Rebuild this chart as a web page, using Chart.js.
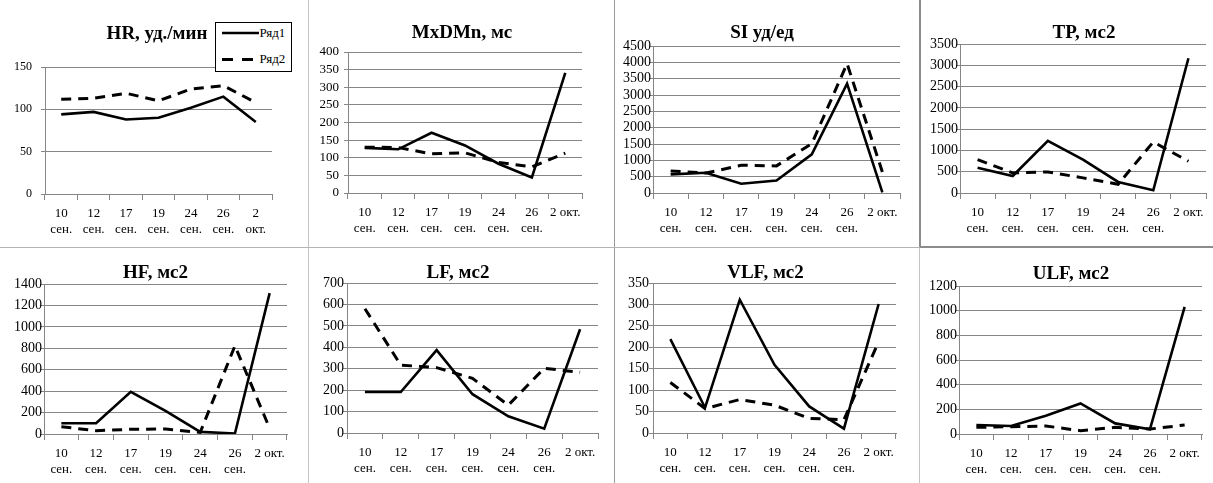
<!DOCTYPE html>
<html><head><meta charset="utf-8">
<script src="https://cdn.jsdelivr.net/npm/chart.js@4.4.1/dist/chart.umd.min.js"></script>
<style>
html,body{margin:0;padding:0;background:#fff;}
#wrap{position:relative;width:1213px;height:483px;overflow:hidden;background:#fff;}
canvas{position:absolute;}
.sep{position:absolute;z-index:3;}
.ttl{position:absolute;width:240px;text-align:center;font-family:"Liberation Serif","Times New Roman",serif;font-weight:bold;font-size:19px;line-height:22.8px;color:#000;white-space:nowrap;z-index:2;}
#legend{position:absolute;left:215px;top:22px;width:77px;height:50px;box-sizing:border-box;border:1px solid #000;background:#fff;z-index:4;}
#legend svg{position:absolute;left:0;top:0;}
#legend .lt{position:absolute;font-family:"Liberation Serif",serif;font-size:13px;line-height:14px;color:#000;}
</style></head><body>
<div id="wrap">
  <div class="sep" style="left:308px;top:0;width:1px;height:483px;background:#c4c4c4"></div>
  <div class="sep" style="left:614px;top:0;width:1px;height:483px;background:#9a9a9a"></div>
  <div class="sep" style="left:919px;top:0;width:2px;height:247px;background:#8c8c8c"></div>
  <div class="sep" style="left:919px;top:247px;width:1px;height:236px;background:#c4c4c4"></div>
  <div class="sep" style="left:0;top:247px;width:920px;height:1px;background:#b4b4b4"></div>
  <div class="sep" style="left:920px;top:246px;width:293px;height:2px;background:#8c8c8c"></div>
  <div id="legend"></div>
</div>
<script>
// ---- data ----
const categories = [["10","сен."],["12","сен."],["17","сен."],["19","сен."],["24","сен."],["26","сен."],["2","окт."]];
const categoriesShort = [["10","сен."],["12","сен."],["17","сен."],["19","сен."],["24","сен."],["26","сен."],"2 окт."];
const seriesNames = ["Ряд1","Ряд2"];
const titles = ["HR, уд./мин","MxDMn, мс","SI уд/ед","TP, мс2","HF, мс2","LF, мс2","VLF, мс2","ULF, мс2"];
const yMax = [150, 400, 4500, 3500, 1400, 700, 350, 1200];
const yStep = [50, 50, 500, 500, 200, 100, 50, 200];

const hr1 = [94, 97, 88, 90, 102, 115, 85];
const hr2 = [112, 113, 119, 110, 124, 128, 108];
const mxdmn1 = [128, 124, 171, 135, 83, 44, 341];
const mxdmn2 = [130, 129, 111, 114, 87, 74, 113];
const si1 = [570, 620, 285, 380, 1185, 3350, 20];
const si2 = [675, 610, 850, 830, 1510, 3960, 645];
const tp1 = [595, 400, 1225, 785, 260, 65, 3165];
const tp2 = [785, 470, 495, 355, 205, 1200, 745];
const hf1 = [100, 100, 393, 215, 20, 5, 1315];
const hf2 = [68, 31, 44, 47, 15, 823, 53];
const lf1 = [191, 191, 387, 181, 78, 20, 484];
const lf2 = [580, 317, 305, 255, 130, 302, 283];
const vlf1 = [219, 59, 311, 159, 62, 10, 301];
const vlf2 = [118, 57, 78, 65, 34, 31, 213];
const ulf1 = [73, 65, 148, 248, 86, 38, 1030];
const ulf2 = [54, 59, 65, 27, 54, 40, 73];

const series1 = [hr1, mxdmn1, si1, tp1, hf1, lf1, vlf1, ulf1];
const series2 = [hr2, mxdmn2, si2, tp2, hf2, lf2, vlf2, ulf2];

// ---- layout (panel boxes, plot areas, title centres) ----
const layouts = [
  {cx:0,   cy:0,   cw:308, ch:247, L:45,  T:67,  R:272,  B:194, tx:157,  ty:33,  yFont:12, yGap:13},
  {cx:309, cy:0,   cw:305, ch:247, L:348, T:52,  R:582,  B:193, tx:462,  ty:32,  yFont:13, yGap:9},
  {cx:615, cy:0,   cw:304, ch:247, L:653, T:46,  R:900,  B:193, tx:762,  ty:32,  yFont:14, yGap:2},
  {cx:921, cy:0,   cw:292, ch:247, L:960, T:44,  R:1206, B:193, tx:1084, ty:32,  yFont:14, yGap:2},
  {cx:0,   cy:248, cw:308, ch:235, L:44,  T:284, R:287,  B:434, tx:155.5,ty:272, yFont:14, yGap:2},
  {cx:309, cy:248, cw:305, ch:235, L:347, T:283, R:598,  B:433, tx:458,  ty:272, yFont:14, yGap:3},
  {cx:615, cy:248, cw:304, ch:235, L:653, T:283, R:896,  B:433, tx:765.5,ty:272, yFont:14, yGap:4},
  {cx:921, cy:248, cw:292, ch:235, L:959, T:286, R:1202, B:434, tx:1071, ty:273, yFont:14, yGap:2}
];

const FONT = "'Liberation Serif','Times New Roman',serif";
const AXIS = '#868686';

const wrap = document.getElementById('wrap');
layouts.forEach((lay, i) => {
  const cv = document.createElement('canvas');
  cv.width = lay.cw; cv.height = lay.ch;
  cv.style.left = lay.cx + 'px'; cv.style.top = lay.cy + 'px';
  cv.style.width = lay.cw + 'px'; cv.style.height = lay.ch + 'px';
  wrap.appendChild(cv);

  const ttl = document.createElement('div');
  ttl.className = 'ttl';
  ttl.textContent = titles[i];
  ttl.style.left = (lay.tx - 120) + 'px';
  ttl.style.top = (lay.ty - 11.5) + 'px';
  wrap.appendChild(ttl);

  const pr = lay.cx + lay.cw - lay.R;
  const yW = lay.L - lay.cx;
  const xH = lay.cy + lay.ch - lay.B;
  const yTick = 4;

  new Chart(cv, {
    type: 'line',
    data: {
      labels: i === 0 ? categories : categoriesShort,
      datasets: [
        {label: seriesNames[0], data: series1[i], borderColor: '#000', borderWidth: 2.6,
         pointRadius: 0, tension: 0, fill: false, order: 2, borderCapStyle: 'butt'},
        {label: seriesNames[1], data: series2[i], borderColor: '#000', borderWidth: 3,
         borderDash: [10, 7], pointRadius: 0, tension: 0, fill: false, order: 1, borderCapStyle: 'butt'}
      ]
    },
    options: {
      responsive: false, animation: false, devicePixelRatio: 1,
      layout: {padding: {left: 0, right: pr, top: lay.T - lay.cy, bottom: 0}},
      plugins: {
        legend: {display: false},
        tooltip: {enabled: false},
        title: {display: false}
      },
      scales: {
        x: {
          type: 'category', offset: true,
          grid: {offset: true, drawOnChartArea: false, drawTicks: true, tickLength: 6, color: AXIS},
          border: {color: AXIS, width: 1},
          ticks: {color: '#000', font: {family: FONT, size: 13, lineHeight: 1.28}, padding: 5,
                  maxRotation: 0, minRotation: 0, autoSkip: false},
          afterFit: s => { s.height = xH; }
        },
        y: {
          min: 0, max: yMax[i],
          grid: {color: AXIS, tickLength: yTick, drawTicks: true},
          border: {color: AXIS, width: 1},
          ticks: {stepSize: yStep[i], autoSkip: false, color: '#000',
                  font: {family: FONT, size: lay.yFont}, padding: lay.yGap - yTick,
                  callback: v => String(v)},
          afterFit: s => { s.width = yW; }
        }
      }
    }
  });
});

// ---- legend for the first panel ----
const legend = document.getElementById('legend');
const ns = 'http://www.w3.org/2000/svg';
const svg = document.createElementNS(ns, 'svg');
svg.setAttribute('width', '75'); svg.setAttribute('height', '48');
const rows = [{y: 10, dash: null, w: 2.6}, {y: 36.5, dash: '11 9', w: 3}];
seriesNames.forEach((name, k) => {
  const ln = document.createElementNS(ns, 'line');
  ln.setAttribute('x1', '6'); ln.setAttribute('x2', '43');
  ln.setAttribute('y1', rows[k].y); ln.setAttribute('y2', rows[k].y);
  ln.setAttribute('stroke', '#000'); ln.setAttribute('stroke-width', rows[k].w);
  if (rows[k].dash) ln.setAttribute('stroke-dasharray', rows[k].dash);
  svg.appendChild(ln);
  const t = document.createElement('div');
  t.className = 'lt'; t.textContent = name;
  t.style.left = '43.5px'; t.style.top = (rows[k].y - 7.5) + 'px';
  legend.appendChild(t);
});
legend.appendChild(svg);
</script>
</body></html>
